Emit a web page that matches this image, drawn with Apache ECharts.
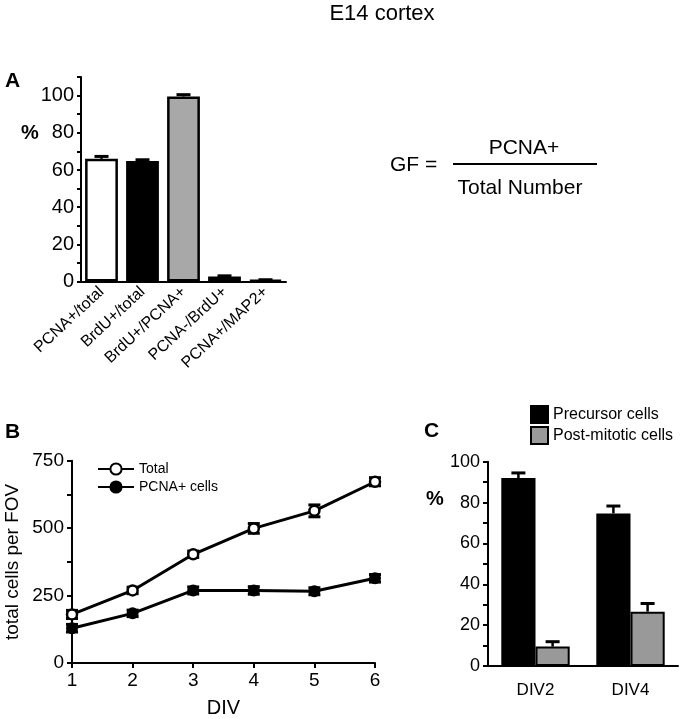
<!DOCTYPE html>
<html>
<head>
<meta charset="utf-8">
<script src="https://cdn.jsdelivr.net/npm/echarts@6/dist/echarts.min.js"></script>
<style>
html,body{margin:0;padding:0;background:#fff;}
#chart{width:685px;height:719px;}
</style>
</head>
<body>
<div id="chart"></div>
<script>
// ---- Panel A data ----
var catsA = ['PCNA+/total', 'BrdU+/total', 'BrdU+/PCNA+', 'PCNA-/BrdU+', 'PCNA+/MAP2+'];
var valsA = [66, 64.8, 99.5, 2.8, 0.8];
var errA = [1.3, 0.7, 1.0, 0.3, 0.2];
var fillA = ['#ffffff', '#000000', '#a8a8a8', '#ffffff', '#000000'];

// ---- Panel B data ----
var divB = [1, 2, 3, 4, 5, 6];
var totalB = [180, 269, 403, 499, 564, 672];
var totalErrB = [15, 12, 12, 18, 22, 15];
var pcnaB = [129, 184, 269, 269, 266, 314];
var pcnaErrB = [14, 12, 13, 14, 13, 14];
var ticksB = [0, 250, 500, 750];

// ---- Panel C data ----
var catsC = ['DIV2', 'DIV4'];
var precursorC = [92, 74.7];
var precursorErrC = [2.5, 3.6];
var postC = [9.5, 26.6];
var postErrC = [2.4, 4.0];

var FONT = '"Liberation Sans", Arial, Helvetica, sans-serif';
var chart = echarts.init(document.getElementById('chart'));

function upErr(offsetSign, gapFrac) {
  return function (params, api) {
    var x = api.value(0), y = api.value(1), e = api.value(2);
    var base = api.coord([x, y]);
    var top = api.coord([x, y + e]);
    var off = 0;
    if (offsetSign !== 0) {
      var cw = api.size([1, 0])[0];
      off = offsetSign * cw * (1 - gapFrac) / 4;
    }
    var cx = base[0] + off;
    var cap = 7;
    return {
      type: 'group',
      children: [
        {type: 'line', shape: {x1: cx, y1: base[1], x2: cx, y2: top[1]}, style: {stroke: '#000', lineWidth: 2.5}},
        {type: 'line', shape: {x1: cx - cap, y1: top[1], x2: cx + cap, y2: top[1]}, style: {stroke: '#000', lineWidth: 3}}
      ]
    };
  };
}

function symErr(params, api) {
  var x = api.value(0), y = api.value(1), e = api.value(2);
  var lo = api.coord([x, y - e]);
  var hi = api.coord([x, y + e]);
  var cap = 6;
  return {
    type: 'group',
    children: [
      {type: 'line', shape: {x1: lo[0], y1: lo[1], x2: hi[0], y2: hi[1]}, style: {stroke: '#000', lineWidth: 2.5}},
      {type: 'line', shape: {x1: lo[0] - cap, y1: lo[1], x2: lo[0] + cap, y2: lo[1]}, style: {stroke: '#000', lineWidth: 3}},
      {type: 'line', shape: {x1: hi[0] - cap, y1: hi[1], x2: hi[0] + cap, y2: hi[1]}, style: {stroke: '#000', lineWidth: 3}}
    ]
  };
}

var axisLineStyle = {color: '#000', width: 2};

var option = {
  backgroundColor: '#fff',
  animation: false,
  textStyle: {fontFamily: FONT, color: '#000'},
  title: {
    text: 'E14 cortex', left: 377, top: -2, textAlign: 'center',
    textStyle: {fontFamily: FONT, fontSize: 22, fontWeight: 'normal', color: '#000'}
  },
  legend: [
    {
      data: ['Total', 'PCNA+ cells'],
      orient: 'vertical', left: 92, top: 457,
      itemWidth: 36, itemHeight: 14, itemGap: 4,
      textStyle: {fontFamily: FONT, fontSize: 14, color: '#000'}
    },
    {
      data: ['Precursor cells', 'Post-mitotic cells'],
      orient: 'vertical', left: 525, top: 400,
      icon: 'rect',
      itemWidth: 17, itemHeight: 17, itemGap: 2,
      textStyle: {fontFamily: FONT, fontSize: 16, color: '#000'}
    }
  ],
  grid: [
    {left: 81, top: 77, width: 205, height: 204.6},
    {left: 72, top: 460.7, width: 303, height: 205.3},
    {left: 488, top: 461.7, width: 190, height: 204.3}
  ],
  xAxis: [
    {
      gridIndex: 0, type: 'category', data: catsA,
      axisLine: {lineStyle: axisLineStyle},
      axisTick: {show: false},
      axisLabel: {rotate: 43, fontSize: 16, color: '#000', margin: 8, fontFamily: FONT}
    },
    {
      gridIndex: 1, type: 'value', min: 1, max: 6, interval: 1,
      axisLine: {lineStyle: axisLineStyle},
      axisTick: {lineStyle: {color: '#000', width: 2}, length: 5},
      splitLine: {show: false},
      axisLabel: {fontSize: 19, color: '#000', margin: 8, fontFamily: FONT},
      name: 'DIV', nameLocation: 'middle', nameGap: 35,
      nameTextStyle: {fontSize: 20, color: '#000', fontFamily: FONT}
    },
    {
      gridIndex: 2, type: 'category', data: catsC,
      axisLine: {lineStyle: axisLineStyle},
      axisTick: {show: false},
      axisLabel: {fontSize: 17, color: '#000', margin: 16, fontFamily: FONT}
    }
  ],
  yAxis: [
    {
      gridIndex: 0, type: 'value', min: 0, max: 110, interval: 20,
      axisLine: {show: true, lineStyle: axisLineStyle},
      axisTick: {show: true, length: 4, lineStyle: {color: '#000', width: 2}},
      minorTick: {show: true, splitNumber: 2, length: 4, lineStyle: {color: '#000', width: 2}},
      splitLine: {show: false},
      axisLabel: {fontSize: 20, color: '#000', margin: 7, fontFamily: FONT, showMaxLabel: false,
        formatter: function (v) { return v > 100 ? '' : String(v); }}
    },
    {
      gridIndex: 1, type: 'value', min: 0, max: 750, interval: 250,
      axisLine: {show: true, lineStyle: axisLineStyle},
      axisTick: {show: true, length: 5, lineStyle: {color: '#000', width: 2}},
      minorTick: {show: true, splitNumber: 2, length: 5, lineStyle: {color: '#000', width: 2}},
      splitLine: {show: false},
      axisLabel: {fontSize: 19, color: '#000', margin: 8, fontFamily: FONT,
        formatter: function (v) { return ticksB.indexOf(v) >= 0 ? String(v) : ''; }},
      name: 'total cells per FOV', nameLocation: 'middle', nameGap: 50, nameRotate: 90,
      nameTextStyle: {fontSize: 19, color: '#000', fontFamily: FONT}
    },
    {
      gridIndex: 2, type: 'value', min: 0, max: 100, interval: 20,
      axisLine: {show: true, lineStyle: axisLineStyle},
      axisTick: {show: true, length: 5, lineStyle: {color: '#000', width: 2}},
      minorTick: {show: true, splitNumber: 2, length: 5, lineStyle: {color: '#000', width: 2}},
      splitLine: {show: false},
      axisLabel: {fontSize: 18, color: '#000', margin: 8, fontFamily: FONT}
    }
  ],
  graphic: [
    {type: 'text', left: 5, top: 71, style: {text: 'A', fontSize: 21, fontWeight: 'bold', fontFamily: FONT, fill: '#000'}},
    {type: 'text', left: 5, top: 422, style: {text: 'B', fontSize: 21, fontWeight: 'bold', fontFamily: FONT, fill: '#000'}},
    {type: 'text', left: 424, top: 421, style: {text: 'C', fontSize: 21, fontWeight: 'bold', fontFamily: FONT, fill: '#000'}},
    {type: 'text', left: 21, top: 123, style: {text: '%', fontSize: 20, fontWeight: 'bold', fontFamily: FONT, fill: '#000'}},
    {type: 'text', left: 426, top: 489, style: {text: '%', fontSize: 20, fontWeight: 'bold', fontFamily: FONT, fill: '#000'}},
    {type: 'text', left: 390, top: 155, style: {text: 'GF =', fontSize: 21, fontFamily: FONT, fill: '#000'}},
    {type: 'text', x: 524, y: 148, style: {text: 'PCNA+', fontSize: 21, fontFamily: FONT, fill: '#000', align: 'center', verticalAlign: 'middle'}},
    {type: 'line', shape: {x1: 453, y1: 164, x2: 597, y2: 164}, style: {stroke: '#000', lineWidth: 2}},
    {type: 'text', x: 520, y: 188, style: {text: 'Total Number', fontSize: 21, fontFamily: FONT, fill: '#000', align: 'center', verticalAlign: 'middle'}}
  ],
  series: [
    {
      name: 'A', type: 'bar', xAxisIndex: 0, yAxisIndex: 0,
      barCategoryGap: '20%',
      data: valsA.map(function (v, i) {
        return {value: v, itemStyle: {color: fillA[i], borderColor: '#000', borderWidth: 2.5}};
      }),
      z: 2
    },
    {
      name: 'A err', type: 'custom', xAxisIndex: 0, yAxisIndex: 0,
      renderItem: upErr(0, 0),
      data: valsA.map(function (v, i) { return [i, v, errA[i]]; }),
      z: 1
    },
    {
      name: 'Total err', type: 'custom', xAxisIndex: 1, yAxisIndex: 1,
      renderItem: symErr,
      data: divB.map(function (d, i) { return [d, totalB[i], totalErrB[i]]; }),
      z: 3
    },
    {
      name: 'PCNA err', type: 'custom', xAxisIndex: 1, yAxisIndex: 1,
      renderItem: symErr,
      data: divB.map(function (d, i) { return [d, pcnaB[i], pcnaErrB[i]]; }),
      z: 3
    },
    {
      name: 'Total', type: 'line', xAxisIndex: 1, yAxisIndex: 1,
      data: divB.map(function (d, i) { return [d, totalB[i]]; }),
      symbol: 'circle', symbolSize: 10, showAllSymbol: true,
      lineStyle: {color: '#000', width: 3},
      itemStyle: {color: '#fff', borderColor: '#000', borderWidth: 2.5},
      z: 4
    },
    {
      name: 'PCNA+ cells', type: 'line', xAxisIndex: 1, yAxisIndex: 1,
      data: divB.map(function (d, i) { return [d, pcnaB[i]]; }),
      symbol: 'circle', symbolSize: 10, showAllSymbol: true,
      lineStyle: {color: '#000', width: 3},
      itemStyle: {color: '#000', borderColor: '#000', borderWidth: 2},
      z: 4
    },
    {
      name: 'Precursor cells', type: 'bar', xAxisIndex: 2, yAxisIndex: 2,
      barGap: 0, barCategoryGap: '28%',
      data: precursorC,
      itemStyle: {color: '#000', borderColor: '#000', borderWidth: 2},
      z: 2
    },
    {
      name: 'Post-mitotic cells', type: 'bar', xAxisIndex: 2, yAxisIndex: 2,
      barGap: 0, barCategoryGap: '28%',
      data: postC,
      itemStyle: {color: '#999999', borderColor: '#000', borderWidth: 2},
      z: 2
    },
    {
      name: 'Precursor err', type: 'custom', xAxisIndex: 2, yAxisIndex: 2,
      renderItem: upErr(-1, 0.28),
      data: precursorC.map(function (v, i) { return [i, v, precursorErrC[i]]; }),
      z: 1
    },
    {
      name: 'Post err', type: 'custom', xAxisIndex: 2, yAxisIndex: 2,
      renderItem: upErr(1, 0.28),
      data: postC.map(function (v, i) { return [i, v, postErrC[i]]; }),
      z: 1
    }
  ]
};
chart.setOption(option);
</script>
</body>
</html>
